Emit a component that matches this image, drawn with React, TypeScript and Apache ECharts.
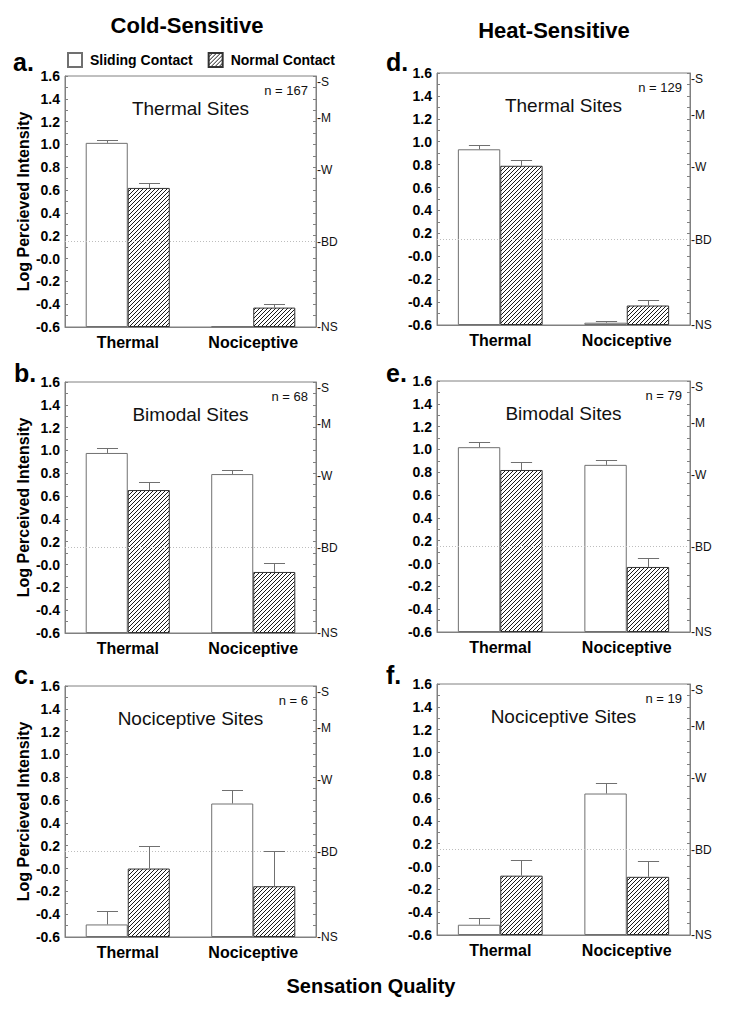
import React, { useEffect, useRef } from 'react';
import * as echarts from 'echarts';

// ---------------- data ----------------
const CATEGORIES = ['Thermal', 'Nociceptive'];
const SERIES_NAMES = ['Sliding Contact', 'Normal Contact'];
const COLUMN_TITLES = ['Cold-Sensitive', 'Heat-Sensitive'];
const X_TITLE = 'Sensation Quality';
const PANEL_LETTERS = ['a.', 'b.', 'c.', 'd.', 'e.', 'f.'];
const PANEL_TITLES = ['Thermal Sites', 'Bimodal Sites', 'Nociceptive Sites', 'Thermal Sites', 'Bimodal Sites', 'Nociceptive Sites'];
const PANEL_N = ['n = 167', 'n = 68', 'n = 6', 'n = 129', 'n = 79', 'n = 19'];
const Y_TITLES = ['Log Percieved Intensity', 'Log Perceived Intensity', 'Log Percieved Intensity', '', '', ''];

// mean values and tops of error bars (log perceived intensity)
const SLIDING_A = [1.014, -0.594];
const SLIDING_ERR_A = [1.043, -0.588];
const NORMAL_A = [0.619, -0.43];
const NORMAL_ERR_A = [0.666, -0.397];

const SLIDING_B = [0.978, 0.793];
const SLIDING_ERR_B = [1.02, 0.832];
const NORMAL_B = [0.653, -0.065];
const NORMAL_ERR_B = [0.72, 0.012];

const SLIDING_C = [-0.49, 0.57];
const SLIDING_ERR_C = [-0.376, 0.69];
const NORMAL_C = [0.0, -0.155];
const NORMAL_ERR_C = [0.2, 0.15];

const SLIDING_D = [0.934, -0.58];
const SLIDING_ERR_D = [0.97, -0.565];
const NORMAL_D = [0.79, -0.43];
const NORMAL_ERR_D = [0.84, -0.385];

const SLIDING_E = [1.02, 0.865];
const SLIDING_ERR_E = [1.065, 0.905];
const NORMAL_E = [0.82, -0.03];
const NORMAL_ERR_E = [0.89, 0.05];

const SLIDING_F = [-0.51, 0.64];
const SLIDING_ERR_F = [-0.455, 0.73];
const NORMAL_F = [-0.08, -0.09];
const NORMAL_ERR_F = [0.06, 0.05];

const SLIDING = [SLIDING_A, SLIDING_B, SLIDING_C, SLIDING_D, SLIDING_E, SLIDING_F];
const SLIDING_ERR = [SLIDING_ERR_A, SLIDING_ERR_B, SLIDING_ERR_C, SLIDING_ERR_D, SLIDING_ERR_E, SLIDING_ERR_F];
const NORMAL = [NORMAL_A, NORMAL_B, NORMAL_C, NORMAL_D, NORMAL_E, NORMAL_F];
const NORMAL_ERR = [NORMAL_ERR_A, NORMAL_ERR_B, NORMAL_ERR_C, NORMAL_ERR_D, NORMAL_ERR_E, NORMAL_ERR_F];

// labelled magnitude scale descriptors (right axis)
const RIGHT_LABELS = ['S', 'M', 'W', 'BD', 'NS'];
const RIGHT_VALUES = [1.544, 1.23, 0.778, 0.146, -0.6];
const BD_VALUE = 0.146;

const Y_MIN = -0.6;
const Y_MAX = 1.6;

// ---------------- layout ----------------
const FONT = 'Liberation Sans, Arial, sans-serif';
const GRIDS = [
  { left: 65, top: 76, width: 251, height: 251 },
  { left: 65, top: 382, width: 251, height: 251 },
  { left: 65, top: 686, width: 251, height: 251 },
  { left: 437, top: 73, width: 253, height: 252 },
  { left: 437, top: 381, width: 253, height: 251 },
  { left: 437, top: 684, width: 253, height: 251 },
];
const LETTER_POS = [
  [13, 62], [14, 373], [14, 675], [386, 62], [386, 373], [386, 675],
];
const BAR_FRACTION = 0.335;
const GRAY = '#808080';

// bars grow from the axis floor (-0.6): shift values onto a 0-based axis
const toAxis = (v: number) => v - Y_MIN;
const fmtTick = (v: number) => {
  const r = v + Y_MIN;
  if (Math.abs(r) < 1e-9) return '-0.0';
  return r.toFixed(1);
};

function makeHatch() {
  const s = 4;
  const c = document.createElement('canvas');
  c.width = s;
  c.height = s;
  const ctx = c.getContext('2d')!;
  ctx.fillStyle = '#ffffff';
  ctx.fillRect(0, 0, s, s);
  ctx.strokeStyle = '#1a1a1a';
  ctx.lineWidth = 1;
  ctx.beginPath();
  ctx.moveTo(0, s);
  ctx.lineTo(s, 0);
  ctx.moveTo(-1, 1);
  ctx.lineTo(1, -1);
  ctx.moveTo(s - 1, s + 1);
  ctx.lineTo(s + 1, s - 1);
  ctx.stroke();
  return c;
}

function errRender(sign: number) {
  return (params: any, api: any) => {
    const ci = api.value(0);
    const base = api.coord([ci, api.value(1)]);
    const top = api.coord([ci, api.value(2)]);
    const band = api.size([1, 0])[0];
    const bw = band * BAR_FRACTION;
    const cx = Math.round(base[0] + (sign * bw) / 2) + 0.5;
    const half = bw / 4;
    const ty = Math.round(top[1]) + 0.5;
    const style = { stroke: '#707070', lineWidth: 1, fill: null };
    return {
      type: 'group',
      children: [
        { type: 'line', shape: { x1: cx, y1: base[1], x2: cx, y2: ty }, style },
        { type: 'line', shape: { x1: cx - half, y1: ty, x2: cx + half, y2: ty }, style },
      ],
    };
  };
}

function rightLabelRender(params: any, api: any) {
  const y = api.coord([0, api.value(1)])[1];
  const cs = params.coordSys;
  return {
    type: 'text',
    x: cs.x + cs.width + 1,
    y,
    style: {
      text: '-' + RIGHT_LABELS[params.dataIndex],
      fill: '#111',
      font: `12px ${FONT}`,
      align: 'left',
      verticalAlign: 'middle',
    },
  };
}

export default function App() {
  const ref = useRef<HTMLDivElement>(null);

  useEffect(() => {
    if (!ref.current) return;
    const chart = echarts.init(ref.current, null, { renderer: 'svg' });
    const hatch = makeHatch();
    const hatchFill: any = { image: hatch, repeat: 'repeat', imageWidth: 4, imageHeight: 4 };

    const grid = GRIDS.map((g) => ({
      left: g.left,
      top: g.top,
      width: g.width,
      height: g.height,
      show: true,
      borderColor: GRAY,
      borderWidth: 1,
      backgroundColor: 'transparent',
    }));

    const xAxis = GRIDS.map((_, i) => ({
      type: 'category',
      gridIndex: i,
      data: CATEGORIES,
      axisLine: { show: true, lineStyle: { color: GRAY } },
      axisTick: { show: false },
      axisLabel: { color: '#000', fontWeight: 'bold', fontSize: 16, fontFamily: FONT, margin: 7 },
      splitLine: { show: false },
    }));

    const yAxis: any[] = [];
    GRIDS.forEach((_, i) => {
      yAxis.push({
        type: 'value',
        gridIndex: i,
        position: 'left',
        min: toAxis(Y_MIN),
        max: toAxis(Y_MAX),
        interval: 0.2,
        name: Y_TITLES[i],
        nameLocation: 'middle',
        nameGap: 32,
        nameTextStyle: { color: '#000', fontWeight: 'bold', fontSize: 16, fontFamily: FONT },
        axisLine: { show: true, lineStyle: { color: GRAY } },
        axisTick: { show: true, inside: true, length: 3, lineStyle: { color: GRAY } },
        minorTick: { show: true, splitNumber: 2, length: 3, lineStyle: { color: GRAY } },
        axisLabel: { color: '#000', fontWeight: 'bold', fontSize: 14, fontFamily: FONT, margin: 5, formatter: fmtTick },
        splitLine: { show: false },
      });
      yAxis.push({
        type: 'value',
        gridIndex: i,
        position: 'right',
        min: toAxis(Y_MIN),
        max: toAxis(Y_MAX),
        interval: 0.1,
        axisLine: { show: true, lineStyle: { color: GRAY } },
        axisTick: { show: true, inside: true, length: 3, lineStyle: { color: GRAY } },
        axisLabel: { show: false },
        splitLine: { show: false },
      });
    });

    const series: any[] = [];
    GRIDS.forEach((_, i) => {
      series.push({
        type: 'bar',
        name: SERIES_NAMES[0],
        xAxisIndex: i,
        yAxisIndex: 2 * i,
        data: SLIDING[i].map(toAxis),
        barWidth: '33.5%',
        barGap: '0%',
        itemStyle: { color: '#ffffff', borderColor: '#707070', borderWidth: 1 },
        markLine: {
          silent: true,
          symbol: ['none', 'none'],
          label: { show: false },
          lineStyle: { type: [1, 2], color: '#bdbdbd', width: 1 },
          data: [{ yAxis: toAxis(BD_VALUE) }],
        },
      });
      series.push({
        type: 'bar',
        name: SERIES_NAMES[1],
        xAxisIndex: i,
        yAxisIndex: 2 * i,
        data: NORMAL[i].map(toAxis),
        barWidth: '33.5%',
        barGap: '0%',
        itemStyle: { color: hatchFill, borderColor: '#333333', borderWidth: 1 },
      });
      series.push({
        type: 'custom',
        name: 'err-s',
        xAxisIndex: i,
        yAxisIndex: 2 * i,
        silent: true,
        clip: false,
        z: 5,
        renderItem: errRender(-1),
        data: CATEGORIES.map((_, j) => [j, toAxis(SLIDING[i][j]), toAxis(SLIDING_ERR[i][j])]),
      });
      series.push({
        type: 'custom',
        name: 'err-n',
        xAxisIndex: i,
        yAxisIndex: 2 * i,
        silent: true,
        clip: false,
        z: 5,
        renderItem: errRender(1),
        data: CATEGORIES.map((_, j) => [j, toAxis(NORMAL[i][j]), toAxis(NORMAL_ERR[i][j])]),
      });
      series.push({
        type: 'custom',
        name: 'scale',
        xAxisIndex: i,
        yAxisIndex: 2 * i + 1,
        silent: true,
        clip: false,
        renderItem: rightLabelRender,
        data: RIGHT_VALUES.map((v) => [0, toAxis(v)]),
      });
    });

    const graphic: any[] = [];
    graphic.push({
      type: 'text', x: 187, y: 25,
      style: { text: COLUMN_TITLES[0], font: `bold 22px ${FONT}`, fill: '#000', align: 'center', verticalAlign: 'middle' },
    });
    graphic.push({
      type: 'text', x: 554, y: 30,
      style: { text: COLUMN_TITLES[1], font: `bold 22px ${FONT}`, fill: '#000', align: 'center', verticalAlign: 'middle' },
    });
    graphic.push({
      type: 'text', x: 371, y: 986,
      style: { text: X_TITLE, font: `bold 20px ${FONT}`, fill: '#000', align: 'center', verticalAlign: 'middle' },
    });
    GRIDS.forEach((g, i) => {
      graphic.push({
        type: 'text', x: LETTER_POS[i][0], y: LETTER_POS[i][1],
        style: { text: PANEL_LETTERS[i], font: `bold 25px ${FONT}`, fill: '#000', align: 'left', verticalAlign: 'middle' },
      });
      graphic.push({
        type: 'text', x: g.left + g.width / 2, y: g.top + 32,
        style: { text: PANEL_TITLES[i], font: `19px ${FONT}`, fill: '#111', align: 'center', verticalAlign: 'middle' },
      });
      graphic.push({
        type: 'text', x: g.left + g.width - 8, y: g.top + 14,
        style: { text: PANEL_N[i], font: `13px ${FONT}`, fill: '#111', align: 'right', verticalAlign: 'middle' },
      });
    });

    chart.setOption({
      animation: false,
      backgroundColor: '#ffffff',
      textStyle: { fontFamily: FONT },
      legend: {
        data: SERIES_NAMES,
        left: 62,
        top: 47,
        itemWidth: 14,
        itemHeight: 14,
        itemGap: 15,
        icon: 'rect',
        selectedMode: false,
        textStyle: { color: '#000', fontWeight: 'bold', fontSize: 14, fontFamily: FONT, padding: [0, 0, 0, 3] },
      },
      grid,
      xAxis,
      yAxis,
      series,
      graphic,
    });

    return () => chart.dispose();
  }, []);

  return (
    <div
      ref={ref}
      style={{ position: 'fixed', left: 0, top: 0, width: 729, height: 1009, background: '#fff' }}
    />
  );
}
